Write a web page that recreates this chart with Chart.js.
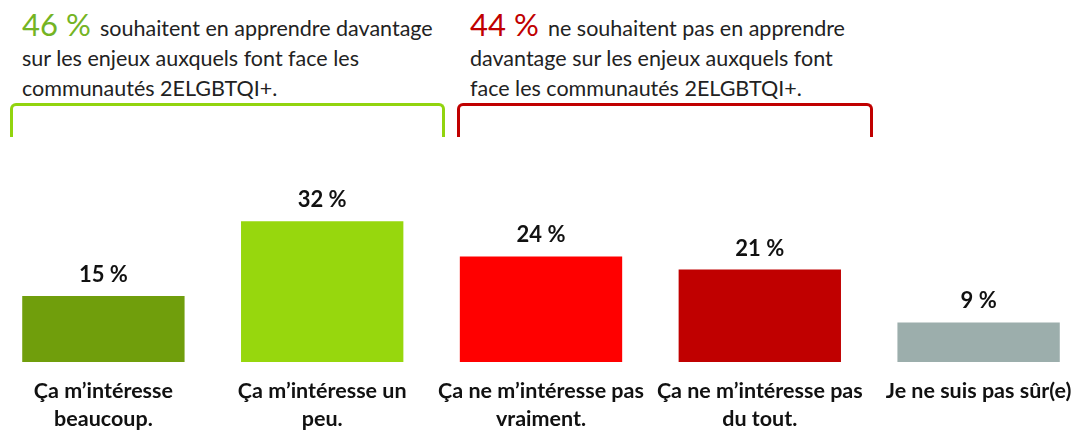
<!DOCTYPE html>
<html>
<head>
<meta charset="utf-8">
<script src="https://cdn.jsdelivr.net/npm/chart.js@4"></script>
<style>
  html, body { margin: 0; padding: 0; background: #fff; overflow: hidden; }
  body { width: 1078px; height: 434px; position: relative; font-family: Lato, "Open Sans", sans-serif; }
  #wrap { position: absolute; left: -6px; top: 0; width: 1094px; height: 434px; }
  .hdr { position: absolute; top: 9px; font-size: 21.5px; line-height: 30px; color: #222; white-space: nowrap; }
  .big { font-size: 31px; display: inline-block; line-height: 30px; }
  .brk { position: absolute; top: 103px; height: 34px; border: 3px solid; border-bottom: none; border-radius: 6px 6px 0 0; box-sizing: border-box; }
</style>
</head>
<body>
<div class="hdr" style="left:22px"><span class="big" style="color:#74B424;width:78px">46 %</span>souhaitent en apprendre davantage<br>sur les enjeux auxquels font face les<br>communautés 2ELGBTQI+.</div>
<div class="hdr" style="left:470px"><span class="big" style="color:#C00000;width:78px">44 %</span>ne souhaitent pas en apprendre<br>davantage sur les enjeux auxquels font<br>face les communautés 2ELGBTQI+.</div>
<div class="brk" style="left:10px; width:435px; border-color:#92D40E"></div>
<div class="brk" style="left:457px; width:416px; border-color:#C00000"></div>
<div id="wrap"><canvas id="c"></canvas></div>
<script>
const categories = [
  ["Ça m’intéresse", "beaucoup."],
  ["Ça m’intéresse un", "peu."],
  ["Ça ne m’intéresse pas", "vraiment."],
  ["Ça ne m’intéresse pas", "du tout."],
  ["Je ne suis pas sûr(e)"]
];
const values = [15, 32, 24, 21, 9];
const valueLabels = ["15 %", "32 %", "24 %", "21 %", "9 %"];
const barColors = ["#709E0C", "#97D70D", "#FF0000", "#C00000", "#9CAEAC"];

const valueLabelPlugin = {
  id: 'valueLabels',
  afterDatasetsDraw(chart) {
    const ctx = chart.ctx;
    const meta = chart.getDatasetMeta(0);
    ctx.save();
    ctx.font = 'bold 22px Lato, "Open Sans", sans-serif';
    ctx.fillStyle = '#111';
    ctx.textAlign = 'center';
    ctx.textBaseline = 'middle';
    meta.data.forEach((bar, i) => {
      ctx.fillText(valueLabels[i], bar.x, bar.y - 21);
    });
    ctx.restore();
  }
};

new Chart(document.getElementById('c'), {
  type: 'bar',
  data: {
    labels: categories,
    datasets: [{
      data: values,
      backgroundColor: barColors,
      borderWidth: 0,
      categoryPercentage: 1,
      barPercentage: 0.742
    }]
  },
  options: {
    responsive: true,
    maintainAspectRatio: false,
    animation: false,
    layout: { padding: { top: 186, left: 0, right: 0, bottom: 0 } },
    plugins: { legend: { display: false }, tooltip: { enabled: false } },
    scales: {
      x: {
        grid: { display: false, drawTicks: false },
        border: { display: false },
        ticks: {
          padding: 15,
          color: '#111',
          maxRotation: 0,
          autoSkip: false,
          font: { family: 'Lato, "Open Sans", sans-serif', size: 21.5, weight: 'bold', lineHeight: 1.3 }
        },
        afterFit(scale) { scale.height = 72; }
      },
      y: {
        display: false,
        min: 0,
        max: 40
      }
    }
  },
  plugins: [valueLabelPlugin]
});
</script>
</body>
</html>
